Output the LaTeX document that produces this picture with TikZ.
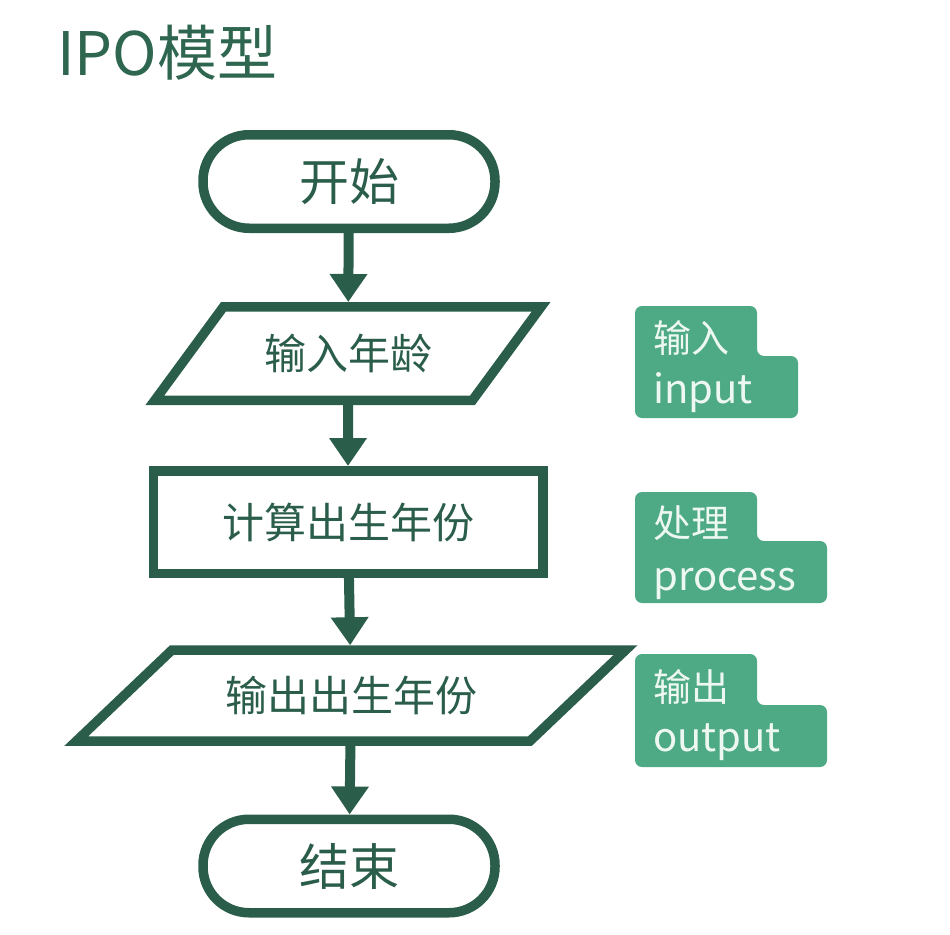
\documentclass[tikz,border=0pt]{standalone}
\usepackage{fontspec}
\setmainfont{Noto Sans CJK SC}
\usepackage{tikz}
\usetikzlibrary{arrows.meta, shapes.geometric}
\definecolor{FlowGreen}{HTML}{2B5E4A}
\definecolor{TagGreen}{HTML}{4EA985}
\definecolor{TagText}{HTML}{EEF8F2}
\definecolor{TitleGreen}{HTML}{2E6650}

\begin{document}
\begin{tikzpicture}[x=1pt, y=-1pt,
      term/.style={draw=FlowGreen, line width=9.5pt, rounded corners=46pt,
                   minimum width=292pt, minimum height=93.5pt, text=FlowGreen,
                   font=\fontsize{50}{56}\selectfont},
      io/.style={trapezium, trapezium stretches=true, draw=FlowGreen, line width=9.5pt,
                 minimum height=93.5pt, inner sep=0pt, text=FlowGreen,
                 font=\fontsize{42}{48}\selectfont},
      procbox/.style={draw=FlowGreen, line width=9.5pt, minimum width=389.5pt,
                      minimum height=102.5pt, text=FlowGreen,
                      font=\fontsize{42}{48}\selectfont},
      arr/.style={draw=FlowGreen, line width=10pt, -{Triangle[width=36pt, length=28pt]}},
      tag/.style={fill=TagGreen, rounded corners=7pt},
      tagtext/.style={anchor=base west, inner sep=0pt, text=TagText,
                      font=\fontsize{38}{44}\selectfont}]
      \useasboundingbox[fill=white] (0,0) rectangle (950,934);

      % Title
      \node[anchor=base west, inner sep=0pt, text=TitleGreen,
            font=\fontsize{60}{66}\selectfont] (title) at (57,75) {IPO模型};

      % Flow
      \node[term] (start) at (349,181.5) {开始};
      \node[io, trapezium left angle=40, trapezium right angle=140,
            minimum width=387pt] (inp) at (348,353.5) {输入年龄};
      \node[procbox] (proc) at (348,522) {计算出生年份};
      \node[io, trapezium left angle=30, trapezium right angle=150,
            minimum width=551pt, minimum height=91pt] (outp) at (351,695.5) {输出出生年份};
      \node[term] (stop) at (349,866) {结束};

      % Arrows
      \draw[arr] (start) -- (inp);
      \draw[arr] (inp) -- (proc);
      \draw[arr] (proc) -- (outp);
      \draw[arr] (outp) -- (stop);

      % Tags
      \fill[tag] (635,306) -- (757,306) -- (757,356) -- (798,356) -- (798,418) -- (635,418) -- cycle;
      \node[tagtext] (tagin) at (653,352) {输入};
      \node[tagtext, font=\fontsize{40}{46}\selectfont] (tagine) at (653,403) {input};

      \fill[tag] (635,492) -- (757,492) -- (757,541) -- (827,541) -- (827,603) -- (635,603) -- cycle;
      \node[tagtext] (tagproc) at (653,537) {处理};
      \node[tagtext, font=\fontsize{40}{46}\selectfont] (tagproce) at (653,590) {process};

      \fill[tag] (635,654) -- (757,654) -- (757,705) -- (827,705) -- (827,767) -- (635,767) -- cycle;
      \node[tagtext] (tagout) at (653,701) {输出};
      \node[tagtext, font=\fontsize{40}{46}\selectfont] (tagoute) at (653,751) {output};
    \end{tikzpicture}
\end{document}
